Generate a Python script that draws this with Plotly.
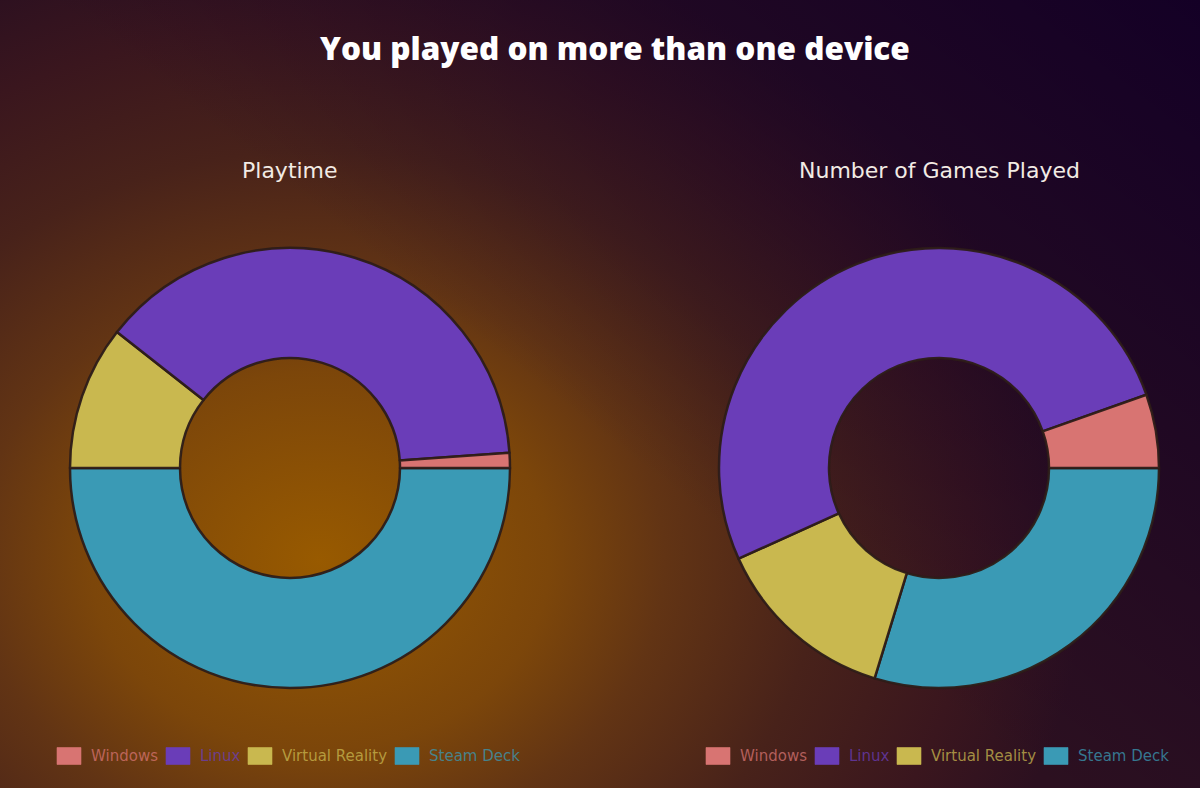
import base64
import plotly.graph_objects as go

# Platforms and their slice colours
labels = ["Windows", "Linux", "Virtual Reality", "Steam Deck"]
colors = ["#d87472", "#6a3db8", "#c9b84f", "#3a9ab5"]

# Share of playtime per platform (percent)
playtime = [1.1, 38.3, 10.6, 50.0]
# Number of games played per platform
games = [2, 19, 5, 11]

title_text = "You played on more than one device"
chart_titles = ["Playtime", "Number of Games Played"]

W, H = 1200, 788
CENTERS = [290, 939]      # pie centres (px, horizontal)
CY = 468                  # pie centre (px, vertical)
R = 220                   # outer radius (px)
LEGEND_OFFSETS = [-233, -124, -42, 105]  # swatch left edge relative to pie centre
SW_W, SW_H = 24, 17
LEGEND_Y = 756


def hex_rgba(h, a):
    h = h.lstrip("#")
    r, g, b = int(h[0:2], 16), int(h[2:4], 16), int(h[4:6], 16)
    return f"rgba({r},{g},{b},{a})"


# Background: warm radial glow fading into a dark violet corner
svg = f"""<svg xmlns='http://www.w3.org/2000/svg' width='{W}' height='{H}'>
<defs>
<radialGradient id='g' cx='320' cy='560' r='900' gradientUnits='userSpaceOnUse'
 gradientTransform='translate(320 560) scale(0.85 0.7) translate(-320 -560)'>
<stop offset='0' stop-color='#985a00'/>
<stop offset='0.3' stop-color='#7c460a'/>
<stop offset='0.45' stop-color='#623414'/>
<stop offset='0.65' stop-color='#48221a'/>
<stop offset='0.85' stop-color='#3a161e'/>
<stop offset='1' stop-color='#2c1020'/>
</radialGradient>
<linearGradient id='p' x1='1200' y1='0' x2='760' y2='560' gradientUnits='userSpaceOnUse'>
<stop offset='0' stop-color='#140026' stop-opacity='1'/>
<stop offset='1' stop-color='#140026' stop-opacity='0'/>
</linearGradient>
</defs>
<rect width='{W}' height='{H}' fill='url(#g)'/>
<rect width='{W}' height='{H}' fill='url(#p)'/>
</svg>"""
bg_uri = "data:image/svg+xml;base64," + base64.b64encode(svg.encode()).decode()

fig = go.Figure()

# Slices run counterclockwise from 3 o'clock; drawn clockwise in reverse order
for cx, vals, name in zip(CENTERS, [playtime, games], chart_titles):
    fig.add_trace(go.Pie(
        labels=labels[::-1],
        values=vals[::-1],
        name=name,
        hole=0.5,
        sort=False,
        direction="clockwise",
        rotation=90,
        domain=dict(x=[(cx - R) / W, (cx + R) / W],
                    y=[1 - (CY + R) / H, 1 - (CY - R) / H]),
        marker=dict(colors=colors[::-1],
                    line=dict(color="rgba(45,28,24,0.95)", width=2.5)),
        textinfo="none",
        hoverinfo="label+percent",
        showlegend=False,
    ))

annotations = [
    dict(text=title_text, x=615 / W, y=1 - 47 / H, xref="paper", yref="paper",
         showarrow=False, xanchor="center", yanchor="middle",
         font=dict(family="Open Sans", size=31.5, color="#ffffff", weight=800)),
]
shapes = []
for cx, t in zip(CENTERS, chart_titles):
    annotations.append(dict(
        text=t, x=cx / W, y=1 - 170 / H, xref="paper", yref="paper",
        showarrow=False, xanchor="center", yanchor="middle",
        font=dict(family="DejaVu Sans", size=22, color="#f2ebe4")))
    # per-chart legend: coloured swatch + tinted label
    for off, lab, col in zip(LEGEND_OFFSETS, labels, colors):
        x0 = cx + off
        shapes.append(dict(
            type="rect", xref="paper", yref="paper",
            x0=x0 / W, x1=(x0 + SW_W) / W,
            y0=1 - (LEGEND_Y + SW_H / 2) / H, y1=1 - (LEGEND_Y - SW_H / 2) / H,
            fillcolor=col, line=dict(color=hex_rgba(col, 0.6), width=1)))
        annotations.append(dict(
            text=lab, x=(x0 + SW_W + 8) / W, y=1 - LEGEND_Y / H,
            xref="paper", yref="paper", showarrow=False,
            xanchor="left", yanchor="middle",
            font=dict(family="DejaVu Sans", size=15, color=hex_rgba(col, 0.75))))

fig.update_layout(
    width=W, height=H,
    margin=dict(l=0, r=0, t=0, b=0),
    paper_bgcolor="#2a1020",
    plot_bgcolor="rgba(0,0,0,0)",
    images=[dict(source=bg_uri, xref="paper", yref="paper", x=0, y=1,
                 sizex=1, sizey=1, sizing="stretch", layer="below",
                 xanchor="left", yanchor="top")],
    annotations=annotations,
    shapes=shapes,
)

fig.write_html("out.html")
